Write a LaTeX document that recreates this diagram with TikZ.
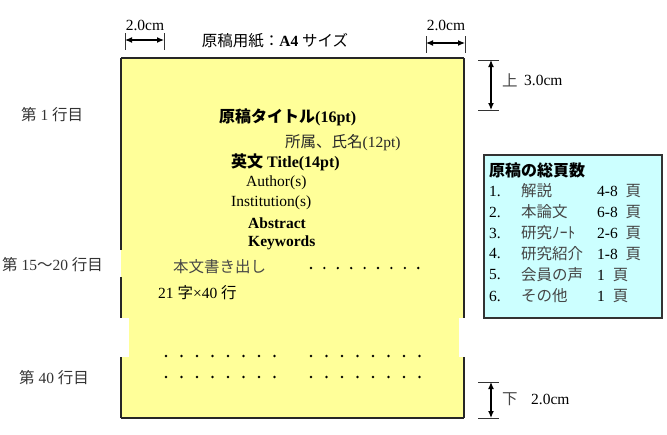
\documentclass[tikz,border=0pt]{standalone}
\usepackage{fontspec}
\usetikzlibrary{arrows.meta}
\setmainfont{Liberation Serif}
\newfontfamily\jp{Noto Sans CJK JP}
\definecolor{pageyellow}{RGB}{255,255,153}
\definecolor{boxcyan}{RGB}{204,255,255}
\definecolor{txtgray}{RGB}{70,70,70}
\begin{document}
\begin{tikzpicture}[x=1pt, y=-1pt, >={Latex[length=7pt,width=6pt]},
    txt/.style={inner sep=0pt, anchor=west, font=\fontsize{15.5}{18}\selectfont},
    big/.style={inner sep=0pt, anchor=west, font=\fontsize{16}{19}\selectfont\bfseries},
    dimline/.style={<->, line width=1.2pt},
    tick/.style={line width=1pt, black!80},
    border/.style={line width=1.2pt, black!85}]
    \useasboundingbox (0,0) rectangle (667,434);

    % the A4 sheet
    \fill[pageyellow] (121,58) rectangle (464,418);
    \draw[border] (121,58) -- (464,58);
    \draw[border] (121,418) -- (464,418);
    \draw[border] (121,58) -- (121,250); \draw[border] (121,277) -- (121,318); \draw[border] (121,357) -- (121,418);
    \draw[border] (464,58) -- (464,318); \draw[border] (464,357) -- (464,418);
    \fill[white] (119,318) rectangle (129,357);
    \fill[white] (459,318) rectangle (467,357);

    % margins
    \coordinate (lmA) at (125,40); \coordinate (lmB) at (164,40);
    \coordinate (rmA) at (426,43); \coordinate (rmB) at (465,43);
    \coordinate (tmA) at (491,60); \coordinate (tmB) at (491,110);
    \coordinate (bmA) at (491,382); \coordinate (bmB) at (491,418);
    \draw[tick] (125,33) -- (125,50); \draw[tick] (164,33) -- (164,50);
    \draw[tick] (426,36) -- (426,53); \draw[tick] (465,36) -- (465,53);
    \draw[tick] (478,60) -- (499,60); \draw[tick] (478,110) -- (499,110);
    \draw[tick] (478,382) -- (499,382); \draw[tick] (478,418) -- (499,418);
    \draw[dimline] (lmA) -- (lmB);
    \draw[dimline] (rmA) -- (rmB);
    \draw[dimline] (tmA) -- (tmB);
    \draw[dimline] (bmA) -- (bmB);
    \node[txt, anchor=center] (lmlabel) at (145,25) {2.0cm};
    \node[txt, anchor=center] (rmlabel) at (446,25) {2.0cm};
    \node[txt, text=txtgray] (tmside) at (502,80) {\jp 上};
    \node[txt] (tmlabel) at (524,80) {3.0cm};
    \node[txt, text=txtgray] (bmside) at (502,399) {\jp 下};
    \node[txt] (bmlabel) at (531,399) {2.0cm};
    \node[txt, anchor=center] (size) at (275,41) {{\jp 原稿用紙：}\textbf{A4} {\jp サイズ}};

    % line numbers
    \node[txt, text=black!80] (row1) at (21,115) {{\jp 第} 1 {\jp 行目}};
    \node[txt, text=black!80] (row15) at (2,265) {{\jp 第} 15{\jp 〜}20 {\jp 行目}};
    \node[txt, text=black!80] (row40) at (19,378) {{\jp 第} 40 {\jp 行目}};

    % contents of the sheet
    \node[big] (title) at (219,117) {{\jp 原稿タイトル}(16pt)};
    \node[txt, text=black!85] (affil) at (285,143) {{\jp 所属、氏名}(12pt)};
    \node[big] (etitle) at (231,162) {{\jp 英文} Title(14pt)};
    \node[txt] (author) at (246,183) {Author(s)};
    \node[txt] (inst) at (231,203) {Institution(s)};
    \node[txt, font=\fontsize{15.5}{18}\selectfont\bfseries] (abstract) at (248,223) {Abstract};
    \node[txt, font=\fontsize{15.5}{18}\selectfont\bfseries] (keywords) at (248,243) {Keywords};
    \node[txt, text=txtgray] (start) at (173,267) {\jp 本文書き出し};
    \node[txt] (chars) at (158,293) {21 {\jp 字}×40 {\jp 行}};
    \foreach \i in {0,...,8} \fill (311+13.4*\i,268) circle (1.3);
    \foreach \y in {356,377} {
        \foreach \i in {0,...,7} {
            \fill (166+15.5*\i,\y) circle (1.3);
            \fill (311+15.5*\i,\y) circle (1.3);
        }
    }

    % page counts
    \draw[fill=boxcyan, draw=black!80, line width=1.2pt] (484,155) rectangle (662,318);
    \node[big, font=\fontsize{16}{19}\selectfont\bfseries\jp] (pages) at (489,170) {原稿の総頁数};
    \foreach \n/\kind/\num [count=\k from 0] in {1/解説/4-8 , 2/本論文/6-8 , 3/研究ﾉｰﾄ/2-6 , 4/研究紹介/1-8 , 5/会員の声/1 , 6/その他/1 } {
        \node[txt] (num\n) at (489,191+21*\k) {\n.};
        \node[txt, text=txtgray] (kind\n) at (521,191+21*\k) {\jp \kind};
        \node[txt] (count\n) at (597,191+21*\k) {\num\hspace{4pt}{\jp\color{txtgray}頁}};
    }
\end{tikzpicture}
\end{document}
